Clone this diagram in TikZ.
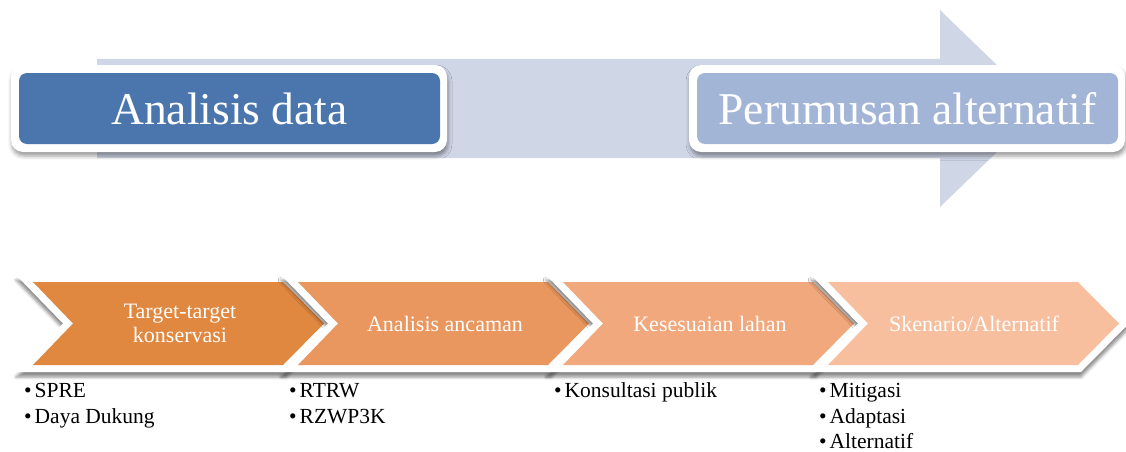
\documentclass[tikz,border=0pt]{standalone}
\usepackage{fontspec}
\setmainfont{Liberation Serif}
\usetikzlibrary{shadows.blur}

\definecolor{arrowbg}{RGB}{207,214,230}
\definecolor{boxdark}{RGB}{74,118,173}
\definecolor{boxlight}{RGB}{163,181,214}
\definecolor{stepA}{RGB}{224,135,64}
\definecolor{stepB}{RGB}{233,151,94}
\definecolor{stepC}{RGB}{241,168,124}
\definecolor{stepD}{RGB}{248,191,159}

% bullet followed by a fixed gap
\newcommand{\itm}{\makebox[10.5pt][l]{•}}

\begin{document}
\begin{tikzpicture}[x=1pt,y=-1pt,
  frame/.style={fill=white, rounded corners=12pt,
    blur shadow={shadow xshift=1pt, shadow yshift=-4pt, shadow blur radius=4pt, shadow opacity=40}},
  phase/.style={rounded corners=8pt, text=white, font=\fontsize{45.5}{50}\selectfont,
    minimum width=421pt, minimum height=71pt, inner sep=0pt},
  stepframe/.style={fill=white,
    blur shadow={shadow xshift=0pt, shadow yshift=-5pt, shadow blur radius=3pt, shadow opacity=45}},
  steplabel/.style={text=white, font=\fontsize{22}{24}\selectfont, align=center, inner sep=0pt},
  item/.style={anchor=base west, inner sep=0pt, text=black, font=\fontsize{21.5}{24}\selectfont}
]
\useasboundingbox (0,0) rectangle (1126,452);

% wide background arrow
\fill[arrowbg] (97,59) -- (940,59) -- (940,10) -- (1042,108.5) -- (940,207) -- (940,158) -- (97,158) -- cycle;

% the two phase boxes with white frames
\path[frame] (11,65) rectangle (447,152);
\path[frame] (689,65) rectangle (1125,152);
\node[phase, fill=boxdark] (analisis) at (229.5,108.5) {Analisis data};
\node[phase, fill=boxlight] (perumusan) at (907.5,108.5) {Perumusan alternatif};

% chevron process steps
\foreach \k/\c in {0/stepA,1/stepB,2/stepC,3/stepD}{
  \pgfmathsetmacro\x{33+265*\k}
  \path[stepframe] (\x-17,275) -- (\x+253,275) -- (\x+301,323.5) -- (\x+253,372)
        -- (\x-17,372) -- (\x+30,323.5) -- cycle;
  \fill[\c] (\x,282) -- (\x+250,282) -- (\x+291,323.5) -- (\x+250,365)
        -- (\x,365) -- (\x+40,323.5) -- cycle;
}

\node[steplabel] (s1) at (180,323.5) {Target-target\\konservasi};
\node[steplabel] (s2) at (445,323.5) {Analisis ancaman};
\node[steplabel] (s3) at (710,323.5) {Kesesuaian lahan};
\node[steplabel] (s4) at (974,323.5) {Skenario/Alternatif};

% bullet lists under the steps
\node[item] (a1) at (24,397) {\itm SPRE};
\node[item] (a2) at (24,423.5) {\itm Daya Dukung};
\node[item] (b1) at (289,397) {\itm RTRW};
\node[item] (b2) at (289,423.5) {\itm RZWP3K};
\node[item] (c1) at (554,397) {\itm Konsultasi publik};
\node[item] (d1) at (819,397) {\itm Mitigasi};
\node[item] (d2) at (819,423) {\itm Adaptasi};
\node[item] (d3) at (819,448.5) {\itm Alternatif};
\end{tikzpicture}
\end{document}
